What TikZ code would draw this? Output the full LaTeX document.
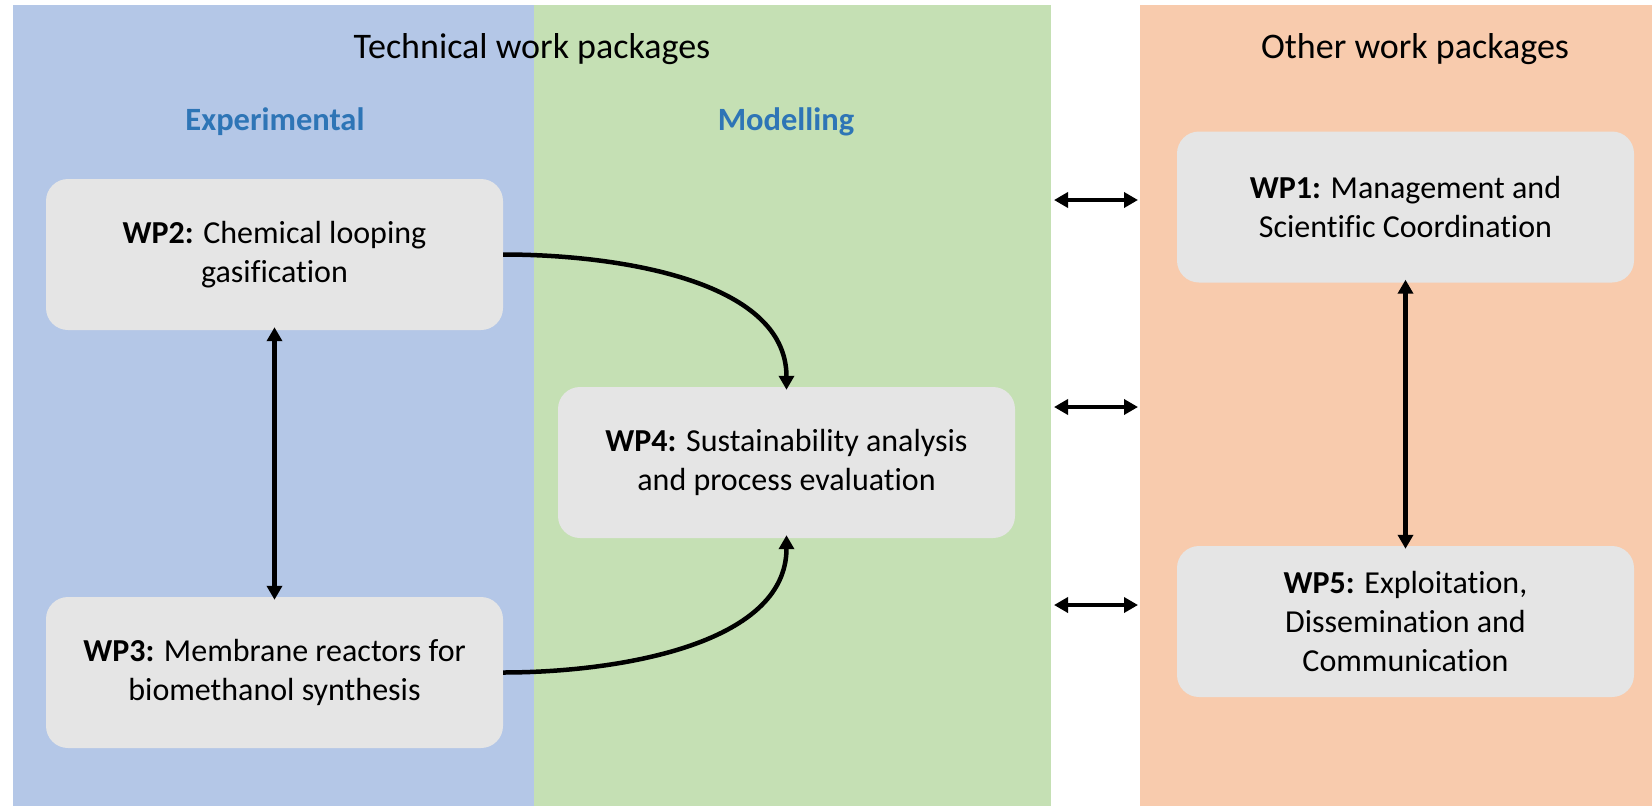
\documentclass[tikz,border=0pt]{standalone}
\usepackage{fontspec}
\setmainfont{Carlito}[Ligatures=NoCommon]
\usetikzlibrary{arrows.meta}
\definecolor{expblue}{HTML}{B4C7E7}
\definecolor{modgreen}{HTML}{C5E0B4}
\definecolor{othorange}{HTML}{F8CBAD}
\definecolor{boxgray}{HTML}{E5E5E5}
\definecolor{headblue}{HTML}{2E75B6}
\tikzset{
  wpbox/.style={fill=boxgray, draw=none, rounded corners=22pt, minimum width=457pt,
    minimum height=151pt, align=center, font=\fontsize{32}{39}\selectfont, inner sep=0pt},
  header/.style={font=\fontsize{36}{42}\selectfont},
  subheader/.style={font=\fontsize{32.5}{38}\selectfont\bfseries, text=headblue},
  link/.style={line width=4.5pt, {Triangle[length=14pt,width=15pt]}-{Triangle[length=14pt,width=15pt]}},
  flow/.style={line width=4.5pt, -{Triangle[length=14pt,width=15pt]}},
}
\begin{document}
\begin{tikzpicture}[x=1pt, y=-1pt]
  \useasboundingbox (0,0) rectangle (1652,806);
  \fill[white] (0,0) rectangle (1652,806);
  % panels
  \fill[expblue] (13,5) rectangle (534,806);
  \fill[modgreen] (534,5) rectangle (1051,806);
  \fill[othorange] (1140,5) rectangle (1652,806);
  % headings
  \node[header] (tech) at (532,49) {Technical work packages};
  \node[header] (other) at (1415,49) {Other work packages};
  \node[subheader] (exp) at (275,122) {Experimental};
  \node[subheader] (mod) at (786,122) {Modelling};
  % work packages
  \node[wpbox] (wp2) at (274.5,254.5) {\textbf{WP2:} Chemical looping\\gasification};
  \node[wpbox] (wp3) at (274.5,672.5) {\textbf{WP3:} Membrane reactors for\\biomethanol synthesis};
  \node[wpbox] (wp4) at (786.5,462.5) {\textbf{WP4:} Sustainability analysis\\and process evaluation};
  \node[wpbox] (wp1) at (1405.5,207) {\textbf{WP1:} Management and\\Scientific Coordination};
  \node[wpbox] (wp5) at (1405.5,621.5) {\textbf{WP5:} Exploitation,\\Dissemination and\\Communication};
  % connectors
  \draw[link] ([yshift=3pt]wp2.south) -- ([yshift=-3pt]wp3.north);
  \draw[link] ([yshift=3pt]wp1.south) -- ([yshift=-3pt]wp5.north);
  \draw[flow] (wp2.east) to[out=0, in=90, looseness=0.9] ([yshift=-3pt]wp4.north);
  \draw[flow] (wp3.east) to[out=0, in=-90, looseness=0.9] ([yshift=3pt]wp4.south);
  % links between the two groups of packages
  \coordinate (la) at (1054,200); \coordinate (ra) at (1138,200);
  \coordinate (lb) at (1054,407); \coordinate (rb) at (1138,407);
  \coordinate (lc) at (1054,605); \coordinate (rc) at (1138,605);
  \draw[link] (la) -- (ra);
  \draw[link] (lb) -- (rb);
  \draw[link] (lc) -- (rc);
\end{tikzpicture}
\end{document}
